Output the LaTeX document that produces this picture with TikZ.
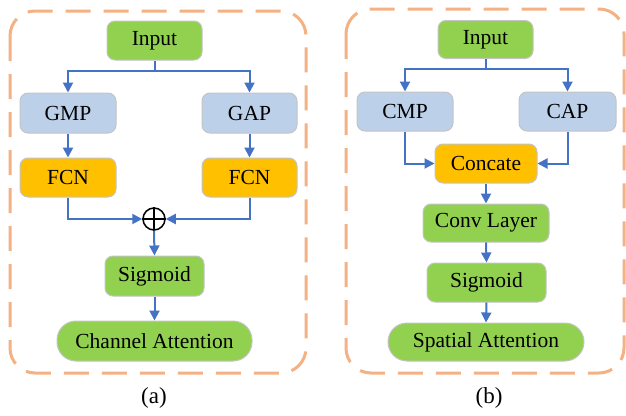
\documentclass[tikz,border=0pt]{standalone}
\usepackage{fontspec}
\setmainfont{Liberation Serif}
\usetikzlibrary{arrows.meta}
\definecolor{cgreen}{HTML}{92D050}
\definecolor{cblue}{HTML}{BDD0E9}
\definecolor{corange}{HTML}{FFC000}
\definecolor{cborder}{HTML}{C4C4C4}
\definecolor{carrow}{HTML}{4472C4}
\definecolor{cdash}{HTML}{F4B183}
\begin{document}
\begin{tikzpicture}[x=1pt,y=-1pt,
  font=\fontsize{21.5}{24}\selectfont,
  box/.style={draw=cborder, line width=1pt, rounded corners=8pt, minimum height=39pt, inner sep=0pt, anchor=center},
  pill/.style={box, rounded corners=19pt},
  arr/.style={draw=carrow, line width=2pt, -{Triangle[length=10pt,width=10pt]}},
  frame/.style={draw=cdash, line width=3pt, dash pattern=on 25pt off 13pt, rounded corners=25pt},
  subcap/.style={font=\fontsize{23}{26}\selectfont}]
\useasboundingbox (0,0) rectangle (626,415);
% frames
\draw[frame] (10,11) rectangle (306,373);
\draw[frame] (346,9) rectangle (624,373);
% panel a
\node[box, fill=cgreen, minimum width=95pt] (ia) at (154.5,40.5) {Input};
\node[box, fill=cblue, minimum width=96pt, minimum height=40pt] (gmp) at (68,113) {GMP};
\node[box, fill=cblue, minimum width=95pt, minimum height=40pt] (gap) at (249.5,113) {GAP};
\node[box, fill=corange, minimum width=96pt] (fcnl) at (68,177.5) {FCN};
\node[box, fill=corange, minimum width=95pt] (fcnr) at (249.5,177.5) {FCN};
\node[circle, draw=black, line width=1.5pt, minimum size=22pt, inner sep=0pt] (plus) at (154,219) {};
\draw[line width=1.5pt] (plus.north) -- (plus.south) (plus.west) -- (plus.east);
\node[box, fill=cgreen, minimum width=99pt, minimum height=40pt] (siga) at (154.5,276) {Sigmoid};
\node[pill, fill=cgreen, minimum width=195pt, minimum height=40pt] (ca) at (154.5,341) {Channel Attention};
\coordinate (sa) at (154.5,71);
\draw[arr] (ia.south) -- (sa) -| (gmp.north);
\draw[arr] (sa) -| (gap.north);
\draw[arr] (gmp.south) -- (fcnl.north);
\draw[arr] (gap.south) -- (fcnr.north);
\draw[arr] (fcnl.south) |- (plus.west);
\draw[arr] (fcnr.south) |- (plus.east);
\draw[arr] (plus.south) -- (siga.north);
\draw[arr] (siga.south) -- (ca.north);
\node[subcap] (la) at (154,398) {(a)};
% panel b
\node[box, fill=cgreen, minimum width=95pt, minimum height=38pt] (ib) at (485.5,39.5) {Input};
\node[box, fill=cblue, minimum width=96pt] (cmp) at (405,111.5) {CMP};
\node[box, fill=cblue, minimum width=97pt] (capn) at (567.5,111.5) {CAP};
\node[box, fill=corange, minimum width=102pt] (conc) at (486,163.5) {Concate};
\node[box, fill=cgreen, minimum width=126pt, minimum height=38pt] (conv) at (486,223) {Conv Layer};
\node[box, fill=cgreen, minimum width=119pt] (sigb) at (486.5,282.5) {Sigmoid};
\node[pill, fill=cgreen, minimum width=196pt, minimum height=38pt] (spa) at (486,342) {Spatial Attention};
\coordinate (sb) at (485.5,69);
\draw[arr] (ib.south) -- (sb) -| (cmp.north);
\draw[arr] (sb) -| (capn.north);
\draw[arr] (cmp.south) |- (conc.west);
\draw[arr] (capn.south) |- (conc.east);
\draw[arr] (conc.south) -- (conv.north);
\draw[arr] (conv.south) -- (sigb.north);
\draw[arr] (sigb.south) -- (spa.north);
\node[subcap] (lb) at (489,398) {(b)};
\end{tikzpicture}
\end{document}
